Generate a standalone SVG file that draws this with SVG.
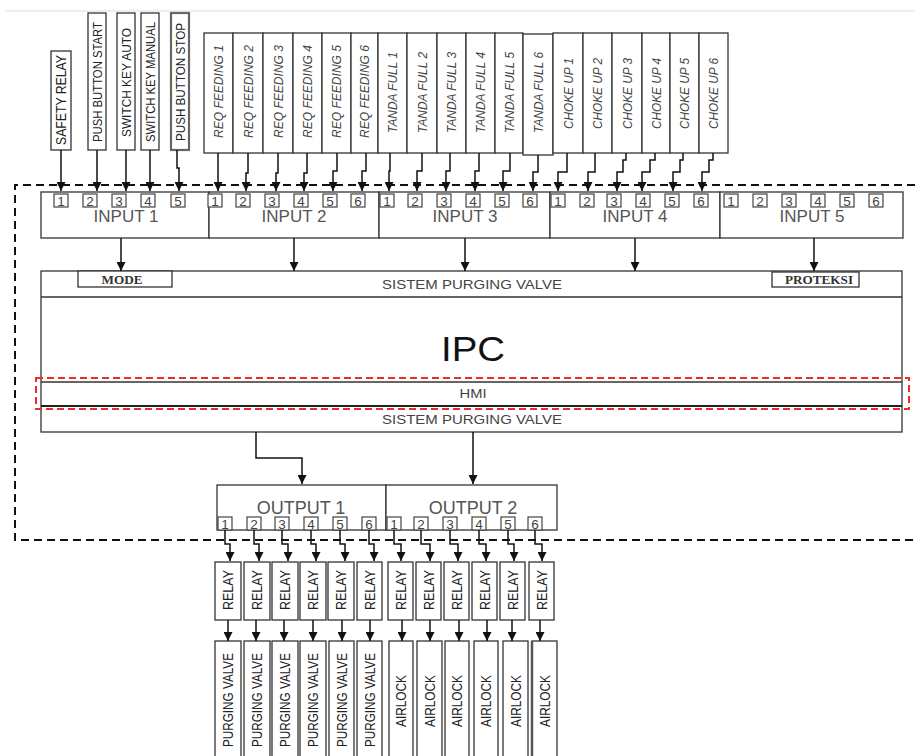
<svg xmlns="http://www.w3.org/2000/svg" width="915" height="756" viewBox="0 0 915 756">
<defs>
<marker id="ah" viewBox="0 0 10 10" refX="10" refY="5" markerWidth="9" markerHeight="9" markerUnits="userSpaceOnUse" orient="auto">
<path d="M0,0 L10,5 L0,10 z" fill="#111"/>
</marker>
<style>
.box{fill:#fff;stroke:#333;stroke-width:1.3}
.nb{fill:#fff;stroke:#444;stroke-width:1.2}
.num{font-family:"Liberation Sans",Arial,sans-serif;font-size:13.5px;fill:#444;text-anchor:middle}
.v{font-family:"Liberation Sans",Arial,sans-serif;font-size:15px;fill:#222;text-anchor:middle}
.vn{font-family:"Liberation Sans",Arial,sans-serif;font-size:13.5px;fill:#222;text-anchor:middle}
.vi{font-family:"Liberation Sans",Arial,sans-serif;font-size:13px;font-style:italic;fill:#444;text-anchor:middle}
.big{font-family:"Liberation Sans",Arial,sans-serif;font-size:17px;fill:#555;text-anchor:middle}
.sm{font-family:"Liberation Sans",Arial,sans-serif;font-size:13px;fill:#444;text-anchor:middle}
.ser{font-family:"Liberation Serif","Times New Roman",serif;font-size:12px;font-weight:bold;fill:#333;text-anchor:middle}
.c{fill:none;stroke:#111;stroke-width:1.5;marker-end:url(#ah)}
</style>
</defs>
<rect width="915" height="756" fill="#fff"/>
<line x1="5" y1="11" x2="915" y2="11" stroke="#ddd" stroke-width="1.2"/>

<g id="frame">
<path d="M915,185 H15 V540 H915" fill="none" stroke="#111" stroke-width="2" stroke-dasharray="8,5"/>
</g>

<g id="sources">
<g id="n-safety"><rect class="box" x="51" y="51" width="20" height="99"/><text class="v" transform="translate(61,100) rotate(-90)" y="5.4" textLength="90" lengthAdjust="spacingAndGlyphs">SAFETY RELAY</text></g>
<g id="n-pbstart"><rect class="box" x="88" y="13" width="18" height="137"/><text class="vn" transform="translate(97,82) rotate(-90)" y="4.8" textLength="120" lengthAdjust="spacingAndGlyphs">PUSH BUTTON START</text></g>
<g id="n-skauto"><rect class="box" x="117" y="13" width="18" height="137"/><text class="vn" transform="translate(126,82.5) rotate(-90)" y="4.8" textLength="109" lengthAdjust="spacingAndGlyphs">SWITCH KEY AUTO</text></g>
<g id="n-skmanual"><rect class="box" x="141" y="13" width="18" height="137"/><text class="vn" transform="translate(150,82) rotate(-90)" y="4.8" textLength="120" lengthAdjust="spacingAndGlyphs">SWITCH KEY MANUAL</text></g>
<g id="n-pbstop"><rect class="box" x="171" y="13" width="18" height="137" style="stroke:#666;stroke-width:2.2"/><text class="vn" transform="translate(180,82) rotate(-90)" y="4.8" textLength="118" lengthAdjust="spacingAndGlyphs">PUSH BUTTON STOP</text></g>

<g id="n-req1"><rect class="box" x="204" y="33" width="29" height="120"/><text class="vi" transform="translate(218.5,91.5) rotate(-90)" y="4.7" textLength="93" lengthAdjust="spacingAndGlyphs">REQ FEEDING 1</text></g>
<g id="n-req2"><rect class="box" x="233" y="33" width="30" height="120"/><text class="vi" transform="translate(248,91.5) rotate(-90)" y="4.7" textLength="93" lengthAdjust="spacingAndGlyphs">REQ FEEDING 2</text></g>
<g id="n-req3"><rect class="box" x="263" y="33" width="30" height="120"/><text class="vi" transform="translate(278,91.5) rotate(-90)" y="4.7" textLength="93" lengthAdjust="spacingAndGlyphs">REQ FEEDING 3</text></g>
<g id="n-req4"><rect class="box" x="293" y="33" width="29" height="120"/><text class="vi" transform="translate(307.5,91.5) rotate(-90)" y="4.7" textLength="93" lengthAdjust="spacingAndGlyphs">REQ FEEDING 4</text></g>
<g id="n-req5"><rect class="box" x="322" y="33" width="29" height="120"/><text class="vi" transform="translate(336.5,91.5) rotate(-90)" y="4.7" textLength="93" lengthAdjust="spacingAndGlyphs">REQ FEEDING 5</text></g>
<g id="n-req6"><rect class="box" x="351" y="33" width="27" height="120"/><text class="vi" transform="translate(364.5,91.5) rotate(-90)" y="4.7" textLength="93" lengthAdjust="spacingAndGlyphs">REQ FEEDING 6</text></g>

<g id="n-tf1"><rect class="box" x="378" y="33" width="29" height="120"/><text class="vi" transform="translate(392.5,92.5) rotate(-90)" y="4.7" textLength="81" lengthAdjust="spacingAndGlyphs">TANDA FULL 1</text></g>
<g id="n-tf2"><rect class="box" x="407" y="33" width="30" height="120"/><text class="vi" transform="translate(422,92.5) rotate(-90)" y="4.7" textLength="81" lengthAdjust="spacingAndGlyphs">TANDA FULL 2</text></g>
<g id="n-tf3"><rect class="box" x="437" y="33" width="29" height="120"/><text class="vi" transform="translate(451.5,92.5) rotate(-90)" y="4.7" textLength="81" lengthAdjust="spacingAndGlyphs">TANDA FULL 3</text></g>
<g id="n-tf4"><rect class="box" x="466" y="33" width="29" height="120"/><text class="vi" transform="translate(480.5,92.5) rotate(-90)" y="4.7" textLength="81" lengthAdjust="spacingAndGlyphs">TANDA FULL 4</text></g>
<g id="n-tf5"><rect class="box" x="495" y="33" width="28" height="120"/><text class="vi" transform="translate(509,92.5) rotate(-90)" y="4.7" textLength="81" lengthAdjust="spacingAndGlyphs">TANDA FULL 5</text></g>
<g id="n-tf6"><rect class="box" x="523" y="34" width="30" height="121"/><text class="vi" transform="translate(538,92.5) rotate(-90)" y="4.7" textLength="81" lengthAdjust="spacingAndGlyphs">TANDA FULL 6</text></g>

<g id="n-cu1"><rect class="box" x="553" y="33" width="30" height="120"/><text class="vi" transform="translate(568,93.5) rotate(-90)" y="4.7" textLength="71" lengthAdjust="spacingAndGlyphs">CHOKE UP 1</text></g>
<g id="n-cu2"><rect class="box" x="583" y="33" width="29" height="120"/><text class="vi" transform="translate(597.5,93.5) rotate(-90)" y="4.7" textLength="71" lengthAdjust="spacingAndGlyphs">CHOKE UP 2</text></g>
<g id="n-cu3"><rect class="box" x="612" y="33" width="30" height="120"/><text class="vi" transform="translate(627,93.5) rotate(-90)" y="4.7" textLength="71" lengthAdjust="spacingAndGlyphs">CHOKE UP 3</text></g>
<g id="n-cu4"><rect class="box" x="642" y="33" width="28" height="120"/><text class="vi" transform="translate(656,93.5) rotate(-90)" y="4.7" textLength="71" lengthAdjust="spacingAndGlyphs">CHOKE UP 4</text></g>
<g id="n-cu5"><rect class="box" x="670" y="33" width="29" height="120"/><text class="vi" transform="translate(684.5,93.5) rotate(-90)" y="4.7" textLength="71" lengthAdjust="spacingAndGlyphs">CHOKE UP 5</text></g>
<g id="n-cu6"><rect class="box" x="699" y="33" width="29" height="120"/><text class="vi" transform="translate(713.5,93.5) rotate(-90)" y="4.7" textLength="71" lengthAdjust="spacingAndGlyphs">CHOKE UP 6</text></g>
</g>

<g id="inputs">
<g id="n-input1"><rect class="box" x="41" y="192" width="168" height="46"/>
<rect class="nb" x="54" y="194" width="14" height="13"/><text class="num" x="61" y="205.5">1</text>
<rect class="nb" x="83" y="194" width="14" height="13"/><text class="num" x="90" y="205.5">2</text>
<rect class="nb" x="112" y="194" width="14" height="13"/><text class="num" x="119" y="205.5">3</text>
<rect class="nb" x="141" y="194" width="14" height="13"/><text class="num" x="148" y="205.5">4</text>
<rect class="nb" x="171" y="194" width="14" height="13"/><text class="num" x="178" y="205.5">5</text>
<text class="big" x="126" y="222">INPUT 1</text></g>
<g id="n-input2"><rect class="box" x="209" y="192" width="170" height="46"/>
<rect class="nb" x="208" y="194" width="14" height="13"/><text class="num" x="215" y="205.5">1</text>
<rect class="nb" x="236" y="194" width="14" height="13"/><text class="num" x="243" y="205.5">2</text>
<rect class="nb" x="265" y="194" width="14" height="13"/><text class="num" x="272" y="205.5">3</text>
<rect class="nb" x="294" y="194" width="14" height="13"/><text class="num" x="301" y="205.5">4</text>
<rect class="nb" x="323" y="194" width="14" height="13"/><text class="num" x="330" y="205.5">5</text>
<rect class="nb" x="351" y="194" width="14" height="13"/><text class="num" x="358" y="205.5">6</text>
<text class="big" x="294" y="222">INPUT 2</text></g>
<g id="n-input3"><rect class="box" x="379" y="192" width="171" height="46"/>
<rect class="nb" x="380" y="194" width="14" height="13"/><text class="num" x="387" y="205.5">1</text>
<rect class="nb" x="408" y="194" width="14" height="13"/><text class="num" x="415" y="205.5">2</text>
<rect class="nb" x="437" y="194" width="14" height="13"/><text class="num" x="444" y="205.5">3</text>
<rect class="nb" x="466" y="194" width="14" height="13"/><text class="num" x="473" y="205.5">4</text>
<rect class="nb" x="495" y="194" width="14" height="13"/><text class="num" x="502" y="205.5">5</text>
<rect class="nb" x="523" y="194" width="14" height="13"/><text class="num" x="530" y="205.5">6</text>
<text class="big" x="465" y="222">INPUT 3</text></g>
<g id="n-input4"><rect class="box" x="550" y="192" width="170" height="46"/>
<rect class="nb" x="551" y="194" width="14" height="13"/><text class="num" x="558" y="205.5">1</text>
<rect class="nb" x="580" y="194" width="14" height="13"/><text class="num" x="587" y="205.5">2</text>
<rect class="nb" x="607" y="194" width="14" height="13"/><text class="num" x="614" y="205.5">3</text>
<rect class="nb" x="636" y="194" width="14" height="13"/><text class="num" x="643" y="205.5">4</text>
<rect class="nb" x="665" y="194" width="14" height="13"/><text class="num" x="672" y="205.5">5</text>
<rect class="nb" x="694" y="194" width="14" height="13"/><text class="num" x="701" y="205.5">6</text>
<text class="big" x="635" y="222">INPUT 4</text></g>
<g id="n-input5"><rect class="box" x="720" y="192" width="183" height="46"/>
<rect class="nb" x="724" y="194" width="14" height="13"/><text class="num" x="731" y="205.5">1</text>
<rect class="nb" x="753" y="194" width="14" height="13"/><text class="num" x="760" y="205.5">2</text>
<rect class="nb" x="782" y="194" width="14" height="13"/><text class="num" x="789" y="205.5">3</text>
<rect class="nb" x="811" y="194" width="14" height="13"/><text class="num" x="818" y="205.5">4</text>
<rect class="nb" x="840" y="194" width="14" height="13"/><text class="num" x="847" y="205.5">5</text>
<rect class="nb" x="869" y="194" width="14" height="13"/><text class="num" x="876" y="205.5">6</text>
<text class="big" x="812" y="222">INPUT 5</text></g>
</g>

<g id="n-ipc">
<rect class="box" x="41" y="271" width="861" height="161"/>
<line x1="41" y1="297" x2="902" y2="297" stroke="#333" stroke-width="1.3"/>
<line x1="41" y1="382" x2="902" y2="382" stroke="#333" stroke-width="1.3"/>
<line x1="41" y1="406" x2="902" y2="406" stroke="#222" stroke-width="2.2"/>
<rect x="78" y="271" width="94" height="16" fill="#fff" stroke="#333" stroke-width="1.3"/>
<text class="ser" x="122" y="283.5" textLength="41" lengthAdjust="spacingAndGlyphs">MODE</text>
<rect x="772" y="272" width="87" height="15" fill="#fff" stroke="#333" stroke-width="1.3"/>
<text class="ser" x="819" y="283.5" textLength="68" lengthAdjust="spacingAndGlyphs">PROTEKSI</text>
<text class="sm" x="472" y="289" textLength="180" lengthAdjust="spacingAndGlyphs">SISTEM PURGING VALVE</text>
<text x="473" y="361" font-family="'Liberation Sans',Arial,sans-serif" font-size="35" fill="#111" text-anchor="middle" textLength="64" lengthAdjust="spacingAndGlyphs">IPC</text>
<text class="sm" x="473" y="398" textLength="27" lengthAdjust="spacingAndGlyphs">HMI</text>
<text class="sm" x="472" y="424" textLength="180" lengthAdjust="spacingAndGlyphs">SISTEM PURGING VALVE</text>
<rect x="36" y="378" width="873" height="31" fill="none" stroke="#ee2b2b" stroke-width="2" stroke-dasharray="7,4"/>
</g>

<g id="outputs">
<g id="n-output1"><rect class="box" x="217" y="485" width="169" height="45"/>
<text class="big" x="301" y="514" style="font-size:18px">OUTPUT 1</text>
<rect class="nb" x="218" y="517" width="14" height="13"/><text class="num" x="225" y="528.5">1</text>
<rect class="nb" x="247" y="517" width="14" height="13"/><text class="num" x="254" y="528.5">2</text>
<rect class="nb" x="275" y="517" width="14" height="13"/><text class="num" x="282" y="528.5">3</text>
<rect class="nb" x="304" y="517" width="14" height="13"/><text class="num" x="311" y="528.5">4</text>
<rect class="nb" x="333" y="517" width="14" height="13"/><text class="num" x="340" y="528.5">5</text>
<rect class="nb" x="362" y="517" width="14" height="13"/><text class="num" x="369" y="528.5">6</text></g>
<g id="n-output2"><rect class="box" x="386" y="485" width="171" height="45"/>
<text class="big" x="473" y="514" style="font-size:18px">OUTPUT 2</text>
<rect class="nb" x="387" y="517" width="14" height="13"/><text class="num" x="394" y="528.5">1</text>
<rect class="nb" x="414" y="517" width="14" height="13"/><text class="num" x="421" y="528.5">2</text>
<rect class="nb" x="443" y="517" width="14" height="13"/><text class="num" x="450" y="528.5">3</text>
<rect class="nb" x="472" y="517" width="14" height="13"/><text class="num" x="479" y="528.5">4</text>
<rect class="nb" x="501" y="517" width="14" height="13"/><text class="num" x="508" y="528.5">5</text>
<rect class="nb" x="528" y="517" width="14" height="13"/><text class="num" x="535" y="528.5">6</text></g>
</g>

<g id="relays">
<g id="n-r1"><rect class="box" x="215" y="562" width="26" height="58"/><text class="v" transform="translate(228,590) rotate(-90)" y="5" style="font-size:14px" textLength="40" lengthAdjust="spacingAndGlyphs">RELAY</text></g>
<g id="n-r2"><rect class="box" x="244" y="562" width="26" height="58"/><text class="v" transform="translate(257,590) rotate(-90)" y="5" style="font-size:14px" textLength="40" lengthAdjust="spacingAndGlyphs">RELAY</text></g>
<g id="n-r3"><rect class="box" x="272" y="562" width="26" height="58"/><text class="v" transform="translate(285,590) rotate(-90)" y="5" style="font-size:14px" textLength="40" lengthAdjust="spacingAndGlyphs">RELAY</text></g>
<g id="n-r4"><rect class="box" x="300" y="562" width="26" height="58"/><text class="v" transform="translate(313,590) rotate(-90)" y="5" style="font-size:14px" textLength="40" lengthAdjust="spacingAndGlyphs">RELAY</text></g>
<g id="n-r5"><rect class="box" x="328" y="562" width="26" height="58"/><text class="v" transform="translate(341,590) rotate(-90)" y="5" style="font-size:14px" textLength="40" lengthAdjust="spacingAndGlyphs">RELAY</text></g>
<g id="n-r6"><rect class="box" x="357" y="562" width="25" height="58"/><text class="v" transform="translate(369.5,590) rotate(-90)" y="5" style="font-size:14px" textLength="40" lengthAdjust="spacingAndGlyphs">RELAY</text></g>
<g id="n-r7"><rect class="box" x="388" y="562" width="25" height="58"/><text class="v" transform="translate(400.5,590) rotate(-90)" y="5" style="font-size:14px" textLength="40" lengthAdjust="spacingAndGlyphs">RELAY</text></g>
<g id="n-r8"><rect class="box" x="416" y="562" width="25" height="58"/><text class="v" transform="translate(428.5,590) rotate(-90)" y="5" style="font-size:14px" textLength="40" lengthAdjust="spacingAndGlyphs">RELAY</text></g>
<g id="n-r9"><rect class="box" x="444" y="562" width="25" height="58"/><text class="v" transform="translate(456.5,590) rotate(-90)" y="5" style="font-size:14px" textLength="40" lengthAdjust="spacingAndGlyphs">RELAY</text></g>
<g id="n-r10"><rect class="box" x="472" y="562" width="25" height="58"/><text class="v" transform="translate(484.5,590) rotate(-90)" y="5" style="font-size:14px" textLength="40" lengthAdjust="spacingAndGlyphs">RELAY</text></g>
<g id="n-r11"><rect class="box" x="500" y="562" width="25" height="58"/><text class="v" transform="translate(512.5,590) rotate(-90)" y="5" style="font-size:14px" textLength="40" lengthAdjust="spacingAndGlyphs">RELAY</text></g>
<g id="n-r12"><rect class="box" x="529" y="562" width="25" height="58"/><text class="v" transform="translate(541.5,590) rotate(-90)" y="5" style="font-size:14px" textLength="40" lengthAdjust="spacingAndGlyphs">RELAY</text></g>
</g>

<g id="valves">
<g id="n-v1"><rect class="box" x="215" y="641" width="26" height="120"/><text class="v" transform="translate(228,700) rotate(-90)" y="5.4" textLength="94" lengthAdjust="spacingAndGlyphs">PURGING VALVE</text></g>
<g id="n-v2"><rect class="box" x="244" y="641" width="26" height="120"/><text class="v" transform="translate(257,700) rotate(-90)" y="5.4" textLength="94" lengthAdjust="spacingAndGlyphs">PURGING VALVE</text></g>
<g id="n-v3"><rect class="box" x="272" y="641" width="26" height="120"/><text class="v" transform="translate(285,700) rotate(-90)" y="5.4" textLength="94" lengthAdjust="spacingAndGlyphs">PURGING VALVE</text></g>
<g id="n-v4"><rect class="box" x="300" y="641" width="26" height="120"/><text class="v" transform="translate(313,700) rotate(-90)" y="5.4" textLength="94" lengthAdjust="spacingAndGlyphs">PURGING VALVE</text></g>
<g id="n-v5"><rect class="box" x="329" y="641" width="25" height="120"/><text class="v" transform="translate(341.5,700) rotate(-90)" y="5.4" textLength="94" lengthAdjust="spacingAndGlyphs">PURGING VALVE</text></g>
<g id="n-v6"><rect class="box" x="357" y="641" width="25" height="120"/><text class="v" transform="translate(369.5,700) rotate(-90)" y="5.4" textLength="94" lengthAdjust="spacingAndGlyphs">PURGING VALVE</text></g>
<g id="n-a1"><rect class="box" x="389" y="641" width="24" height="120"/><text class="v" transform="translate(401,701) rotate(-90)" y="5.4" textLength="52" lengthAdjust="spacingAndGlyphs">AIRLOCK</text></g>
<g id="n-a2"><rect class="box" x="417" y="641" width="25" height="120"/><text class="v" transform="translate(429.5,701) rotate(-90)" y="5.4" textLength="52" lengthAdjust="spacingAndGlyphs">AIRLOCK</text></g>
<g id="n-a3"><rect class="box" x="445" y="641" width="24" height="120"/><text class="v" transform="translate(457,701) rotate(-90)" y="5.4" textLength="52" lengthAdjust="spacingAndGlyphs">AIRLOCK</text></g>
<g id="n-a4"><rect class="box" x="474" y="641" width="24" height="120"/><text class="v" transform="translate(486,701) rotate(-90)" y="5.4" textLength="52" lengthAdjust="spacingAndGlyphs">AIRLOCK</text></g>
<g id="n-a5"><rect class="box" x="503" y="641" width="25" height="120"/><text class="v" transform="translate(515.5,701) rotate(-90)" y="5.4" textLength="52" lengthAdjust="spacingAndGlyphs">AIRLOCK</text></g>
<g id="n-a6"><rect class="box" x="532" y="641" width="25" height="120"/><line x1="532" y1="641" x2="532" y2="760" stroke="#555" stroke-width="2.5"/><text class="v" transform="translate(544.5,701) rotate(-90)" y="5.4" textLength="52" lengthAdjust="spacingAndGlyphs">AIRLOCK</text></g>
</g>

<g id="connectors">
<path class="c" d="M61,150 V191"/>
<path class="c" d="M97,150 V191"/>
<path class="c" d="M126,150 V191"/>
<path class="c" d="M150,150 V191"/>
<path class="c" d="M177,150 V168 H179 V191"/>
<path class="c" d="M218,153 V191"/>
<path class="c" d="M248,153 V173 H246 V191"/>
<path class="c" d="M278,153 V173 H276 V191"/>
<path class="c" d="M307,153 V173 H304 V191"/>
<path class="c" d="M337,153 V171 H333 V191"/>
<path class="c" d="M366,153 V171 H362 V191"/>
<path class="c" d="M390,153 V171 H389 V191"/>
<path class="c" d="M422,153 V171 H417 V191"/>
<path class="c" d="M450,153 V171 H446 V191"/>
<path class="c" d="M479,153 V171 H475 V191"/>
<path class="c" d="M510,153 V171 H503 V191"/>
<path class="c" d="M538,155 V172 H533 V191"/>
<path class="c" d="M567,153 V172 H558 V191"/>
<path class="c" d="M595,153 V172 H588 V191"/>
<path class="c" d="M626,153 V160 H623 V172 H617 V191"/>
<path class="c" d="M655,153 V160 H650 V172 H642 V191"/>
<path class="c" d="M683,153 V160 H680 V172 H673 V191"/>
<path class="c" d="M713,153 V160 H709 V172 H702 V191"/>

<path class="c" d="M121,238 V271"/>
<path class="c" d="M294,238 V271"/>
<path class="c" d="M465,238 V271"/>
<path class="c" d="M635,238 V271"/>
<path class="c" d="M814,238 V271"/>

<path class="c" d="M256,432 V458 H302 V484"/>
<path class="c" d="M473,432 V484"/>

<path class="c" d="M225,530 V544 H230 V561"/>
<path class="c" d="M254,530 V544 H259 V561"/>
<path class="c" d="M282,530 V544 H288 V561"/>
<path class="c" d="M311,530 V544 H316 V561"/>
<path class="c" d="M340,530 V544 H345 V561"/>
<path class="c" d="M369,530 V544 H374 V561"/>
<path class="c" d="M394,530 V544 H401 V561"/>
<path class="c" d="M421,530 V544 H430 V561"/>
<path class="c" d="M450,530 V544 H458 V561"/>
<path class="c" d="M479,530 V544 H486 V561"/>
<path class="c" d="M508,530 V544 H514 V561"/>
<path class="c" d="M535,530 V544 H542 V561"/>

<path class="c" d="M228,620 V641"/>
<path class="c" d="M256,620 V641"/>
<path class="c" d="M284,620 V641"/>
<path class="c" d="M313,620 V641"/>
<path class="c" d="M342,620 V641"/>
<path class="c" d="M370,620 V641"/>
<path class="c" d="M402,620 V641"/>
<path class="c" d="M430,620 V641"/>
<path class="c" d="M459,620 V641"/>
<path class="c" d="M487,620 V641"/>
<path class="c" d="M512,620 V641"/>
<path class="c" d="M540,620 V641"/>
</g>
</svg>
